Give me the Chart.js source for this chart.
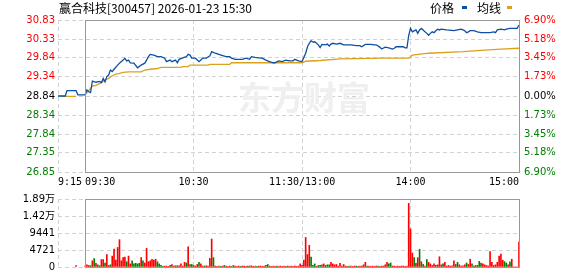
<!DOCTYPE html>
<html><head><meta charset="utf-8">
<script src="https://cdn.jsdelivr.net/npm/chart.js@4.4.1/dist/chart.umd.min.js"></script>
<style>
html,body{margin:0;padding:0;background:#fff;}
#wrap{position:relative;width:578px;height:276px;overflow:hidden;}
canvas{position:absolute;left:0;}
#c1{top:0}
#c2{top:190px}
</style></head><body>
<div id="wrap"><canvas id="c1" width="578" height="190"></canvas><canvas id="c2" width="578" height="86"></canvas></div>
<script>
// ---------- data ----------
const title = '赢合科技[300457] 2026-01-23 15:30';
const legendLabels = ['价格', '均线'];
const watermark = '东方财富';
const prevClose = 28.84;
const priceTicks = [30.83, 30.33, 29.84, 29.34, 28.84, 28.34, 27.84, 27.35, 26.85];
const pctLabels  = ['6.90%', '5.18%', '3.45%', '1.73%', '0.00%', '1.73%', '3.45%', '5.18%', '6.90%'];
const xLabels     = ['9:15', '09:30', '10:30', '11:30/13:00', '14:00', '15:00'];
const xLabelTimes = ['09:15', '09:30', '10:30', '11:30', '14:00', '15:00'];
const xLabelAnchor = ['start', 'start', 'center', 'center', 'center', 'end'];
const gridTimes = ['09:15', '10:30', '11:30', '14:00'];
const volTicks = [0, 4721, 9441, 14162, 18884];
const volTickLabels = ['0', '4721', '9441', '1.42万', '1.89万'];

const priceTimes = ['09:15','09:19','09:20','09:25','09:26','09:29',
 '09:30','09:31','09:32','09:33','09:34','09:36','09:38','09:39','09:40','09:41','09:42','09:43','09:44','09:45','09:46','09:48','09:49','09:51','09:52','09:53','09:54','09:55','09:57','09:59',
 '10:01','10:03','10:04','10:05','10:06','10:08','10:10','10:12','10:14','10:15','10:17','10:18','10:20','10:21','10:22','10:24','10:26','10:27','10:28','10:29','10:31','10:33','10:34','10:35','10:37','10:39','10:40','10:42','10:44','10:46','10:48','10:50','10:51','10:53','10:57','10:59',
 '11:01','11:02','11:04','11:06','11:08','11:10','11:12','11:14','11:15','11:17','11:19','11:21','11:23','11:25','11:26','11:28','11:30',
 '13:02','13:03','13:04','13:05','13:06','13:07','13:08','13:09','13:10','13:11','13:13','13:14','13:15','13:16','13:17','13:19','13:21','13:23','13:27','13:30','13:32','13:33','13:35','13:38','13:40','13:41','13:43','13:44','13:46','13:48','13:50','13:51','13:52','13:56','13:57','13:58','13:59',
 '14:00','14:01','14:03','14:04','14:05','14:06','14:07','14:08','14:09','14:10','14:11','14:12','14:13','14:14','14:15','14:16','14:17','14:20','14:24','14:26','14:28','14:29','14:30','14:31','14:32','14:33','14:35','14:37','14:39','14:44','14:46','14:47','14:48','14:50','14:52','14:53','14:55','14:59','15:00'];
const priceValues = [28.84,28.84,28.98,28.98,28.87,28.87,
 28.87,29.00,28.95,28.93,29.23,29.20,29.22,29.19,29.30,29.21,29.35,29.39,29.52,29.48,29.54,29.65,29.70,29.78,29.83,29.76,29.78,29.71,29.70,29.58,
 29.65,29.70,29.78,29.87,29.93,29.91,29.87,29.87,29.83,29.74,29.78,29.74,29.78,29.71,29.80,29.84,29.87,29.93,29.91,29.83,29.83,29.74,29.78,29.83,29.83,29.89,30.00,29.96,29.93,29.90,29.87,29.87,29.83,29.80,29.80,29.83,
 29.80,29.87,29.85,29.84,29.83,29.78,29.74,29.71,29.71,29.76,29.74,29.78,29.76,29.76,29.80,29.76,29.74,
 29.96,30.13,30.22,30.29,30.25,30.26,30.22,30.18,30.11,30.19,30.18,30.20,30.15,30.20,30.22,30.20,30.22,30.18,30.18,30.16,30.16,30.13,30.19,30.19,30.18,30.18,30.12,30.07,30.12,30.10,30.07,30.09,30.13,30.13,30.10,30.10,30.43,
 30.61,30.52,30.57,30.48,30.57,30.61,30.57,30.52,30.48,30.43,30.48,30.52,30.50,30.55,30.59,30.57,30.59,30.57,30.55,30.57,30.59,30.57,30.55,30.50,30.52,30.55,30.55,30.52,30.50,30.50,30.52,30.50,30.57,30.59,30.57,30.59,30.61,30.61,30.70];

const avgTimes = ['09:17','09:25','09:26',
 '09:30','09:33','09:34','09:36','09:39','09:41','09:43','09:45','09:47','09:49','09:51','09:54','10:01','10:03','10:06','10:10','10:12','10:23','10:24','10:27','10:28','10:38','10:39','10:50','10:51','11:30',
 '13:02','13:10','13:21','13:45','13:59','14:00','14:01','14:10','14:29','14:43','14:50','15:00'];
const avgValues = [28.83,28.83,null,
 28.87,29.04,29.10,29.12,29.19,29.26,29.30,29.37,29.41,29.43,29.46,29.47,29.47,29.52,29.54,29.56,29.59,29.59,29.61,29.61,29.65,29.65,29.67,29.67,29.71,29.71,
 29.75,29.77,29.81,29.83,29.83,29.87,29.91,29.96,30.00,30.05,30.07,30.09];

// volume: call auction bar, then one bar per minute 09:30-11:30 and 13:01-15:00 (r = up, g = down)
const volAuctionTime = '09:25', volAuction = 400, volAuctionDir = 'r';
const volMorning = [260,600,430,350,1720,2330,1030,600,350,2070,
 2070,1120,3450,430,600,3020,5000,1900,5430,7590,
 1720,2590,2760,1470,3020,860,1720,860,1030,860,
 1030,2590,1720,1120,5170,1470,1720,2160,1900,2160,
 1470,860,430,170,260,260,170,430,700,260,
 350,350,350,860,260,1290,1120,5600,700,700,
 430,260,700,1290,860,260,260,350,260,2410,
 7760,2590,260,170,260,170,260,430,260,170,
 260,170,430,260,170,260,170,260,260,170,
 260,260,350,170,260,170,260,260,170,260,
 430,700,260,170,260,170,260,170,260,170,
 260,170,260,170,260,170,260,170,260,860,
 430];
const volMorningDir = 'rrrgrgrggr' + 'rgrrgrrrrr' + 'rrrgrrgggg' + 'grgrrrrrrr' + 'ggggrrrgrr' +
  'rgrrrrgrgg' + 'rrrgrrgrrr' + 'rgrrrgrgrr' + 'rggrrrgrrr' + 'grrrrgrrrr' + 'ggrrrrgrrr' + 'rgrrrrrrrr' + 'r';
const volAfternoon = [1900,8200,3450,6030,2760,430,860,170,430,430,
 600,860,430,600,600,1290,860,600,700,260,
 1030,260,700,260,170,260,260,170,260,260,
 170,260,260,600,1290,260,260,170,260,170,
 260,260,170,260,260,600,1290,860,1120,260,
 260,170,260,170,260,260,170,260,17670,10600,
 3880,2590,1030,2590,4920,1470,700,260,2070,1290,
 860,430,860,430,600,2850,600,860,1290,260,
 430,260,350,1720,700,1290,600,260,350,600,
 1120,700,2160,860,260,430,430,1550,1120,860,
 600,430,260,4310,1290,430,600,1290,3020,3620,
 1900,1470,1120,600,1470,2160,0,0,0,6900];
const volAfternoonDir = 'rrrrgggrgg' + 'rrgggrrrrr' + 'rrrrrgrrrg' + 'rrrrrgrrrr' + 'rgrrrrrggr' +
  'rrrrrrrrrr' + 'rgrrgrgrgr' + 'rrrgrrrgrr' + 'rrrrggrrrr' + 'grrgrgrggr' + 'rrrrrrrrrr' + 'rggrgrrrrr';

// ---------- helpers ----------
function toIndex(hhmm){
  const [h, m] = hhmm.split(':').map(Number);
  const mins = h * 60 + m;
  if (mins < 570) return mins - 555;          // 9:15 - 9:30 call auction
  if (mins <= 690) return 15 + mins - 570;    // morning session
  return 135 + mins - 780;                    // afternoon session
}
const X_MAX = toIndex('15:00');
const LEFT_W = 58, RIGHT_W = 59;
const PLOT_W = 578 - LEFT_W - RIGHT_W;
const RED = '#ff0000', GREEN = '#008000';
const BLUE = '#0c4fa3', GOLD = '#dba11c';
const GRID = '#d2d2d2', DASH = [4, 3];
const X_FONT = {family: '"DejaVu Sans Mono", monospace', size: 10};
const Y_FONT = {family: '"DejaVu Sans", "Noto Sans CJK SC", sans-serif', size: 10};

const mctx = document.createElement('canvas').getContext('2d');
mctx.font = '10px "DejaVu Sans Mono"';
const xLabelValues = xLabels.map((lab, i) => {
  const w = mctx.measureText(lab).width * X_MAX / PLOT_W;
  const v = toIndex(xLabelTimes[i]);
  return xLabelAnchor[i] === 'start' ? v + w / 2 : xLabelAnchor[i] === 'end' ? v - w / 2 : v;
});
function priceColor(v){
  if (Math.abs(v - prevClose) < 1e-6) return '#000';
  return v > prevClose ? RED : GREEN;
}
function pts(times, vals){ return times.map((t, i) => ({x: toIndex(t), y: vals[i]})); }

// volume points: x = minute index on the shared time axis
const volPoints = [{x: toIndex(volAuctionTime), y: volAuction}];
const volColors = [volAuctionDir === 'r' ? RED : GREEN];
volMorning.forEach((v, i) => { volPoints.push({x: toIndex('09:30') + i, y: v}); volColors.push(volMorningDir[i] === 'r' ? RED : GREEN); });
volAfternoon.forEach((v, i) => { volPoints.push({x: toIndex('13:00') + 1 + i, y: v}); volColors.push(volAfternoonDir[i] === 'r' ? RED : GREEN); });

const framePlugin = {
  id: 'frame',
  afterDatasetsDraw(chart){
    const {ctx, chartArea: a, scales: {x}} = chart;
    const l = Math.round(x.getPixelForValue(toIndex('09:30'))) + 0.5;
    const r = Math.round(x.getPixelForValue(X_MAX)) + 0.5;
    ctx.save();
    ctx.strokeStyle = '#999'; ctx.lineWidth = 1;
    ctx.strokeRect(l, Math.round(a.top) + 0.5, r - l, Math.round(a.bottom - a.top));
    ctx.restore();
  }
};
const headerPlugin = {
  id: 'header',
  afterDraw(chart){
    const ctx = chart.ctx;
    ctx.save();
    ctx.font = '12px "Noto Sans CJK SC"';
    ctx.fillStyle = '#000'; ctx.textBaseline = 'middle';
    ctx.fillText(title, 59, 8);
    ctx.fillText(legendLabels[0], 430, 8);
    ctx.fillStyle = BLUE; ctx.fillRect(462, 6, 5, 3);
    ctx.fillStyle = '#000';
    ctx.fillText(legendLabels[1], 477, 8);
    ctx.fillStyle = GOLD; ctx.fillRect(507, 6, 5, 3);
    ctx.restore();
  }
};
const watermarkPlugin = {
  id: 'watermark',
  beforeDatasetsDraw(chart){
    const ctx = chart.ctx;
    ctx.save();
    ctx.font = 'bold 33px "Noto Sans CJK SC"';
    ctx.fillStyle = '#efefef'; ctx.textBaseline = 'middle';
    ctx.fillText(watermark, 238, 97);
    ctx.restore();
  }
};

// ---------- price chart ----------
new Chart(document.getElementById('c1'), {
  type: 'line',
  data: {datasets: [
    {label: legendLabels[0], data: pts(priceTimes, priceValues), borderColor: BLUE, borderWidth: 1.3, pointRadius: 0, tension: 0, xAxisID: 'x', yAxisID: 'y'},
    {label: legendLabels[1], data: pts(avgTimes, avgValues), borderColor: GOLD, borderWidth: 1.3, pointRadius: 0, tension: 0, spanGaps: false, xAxisID: 'x', yAxisID: 'y'}
  ]},
  options: {
    responsive: false, animation: false, events: [],
    layout: {padding: {top: 20, left: 0, right: 0, bottom: 0}},
    plugins: {legend: {display: false}, tooltip: {enabled: false}},
    scales: {
      x: {type: 'linear', min: 0, max: X_MAX, position: 'bottom',
        afterBuildTicks(s){ s.ticks = gridTimes.map(t => ({value: toIndex(t)})); },
        ticks: {display: false}, grid: {drawTicks: false, color: GRID}, border: {display: false, dash: DASH},
        afterFit(s){ s.height = 0; }},
      xl: {type: 'linear', min: 0, max: X_MAX, position: 'bottom',
        afterBuildTicks(s){ s.ticks = xLabelValues.map(v => ({value: v})); },
        ticks: {autoSkip: false, maxRotation: 0, padding: 4, font: X_FONT, color: '#000',
          callback: (v, i) => xLabels[i]},
        grid: {display: false, drawTicks: false}, border: {display: false},
        afterFit(s){ s.height = 18; }},
      y: {position: 'left', min: priceTicks[priceTicks.length - 1], max: priceTicks[0],
        afterBuildTicks(s){ s.ticks = priceTicks.map(v => ({value: v})); },
        ticks: {padding: 3, font: Y_FONT, color: c => priceColor(c.tick.value), callback: v => v.toFixed(2)},
        grid: {drawTicks: false, color: GRID}, border: {display: false, dash: DASH},
        afterFit(s){ s.width = LEFT_W; }},
      y2: {position: 'right', min: priceTicks[priceTicks.length - 1], max: priceTicks[0],
        afterBuildTicks(s){ s.ticks = priceTicks.map(v => ({value: v})); },
        ticks: {padding: 5, font: Y_FONT, color: c => priceColor(c.tick.value),
          callback: v => pctLabels[priceTicks.indexOf(v)]},
        grid: {display: false, drawTicks: false}, border: {display: false},
        afterFit(s){ s.width = RIGHT_W; }}
    }
  },
  plugins: [watermarkPlugin, framePlugin, headerPlugin]
});

// ---------- volume chart ----------
new Chart(document.getElementById('c2'), {
  type: 'bar',
  data: {datasets: [{
    data: volPoints,
    backgroundColor: volColors,
    barThickness: 1, borderWidth: 0, grouped: false
  }]},
  options: {
    responsive: false, animation: false, events: [],
    layout: {padding: {top: 6, left: 0, right: RIGHT_W, bottom: 6}},
    plugins: {legend: {display: false}, tooltip: {enabled: false}},
    scales: {
      x: {type: 'linear', min: 0, max: X_MAX, offset: false,
        afterBuildTicks(s){ s.ticks = gridTimes.map(t => ({value: toIndex(t)})); },
        ticks: {display: false}, grid: {drawTicks: false, color: GRID, offset: false}, border: {display: false, dash: DASH},
        afterFit(s){ s.height = 0; }},
      y: {position: 'left', min: 0, max: volTicks[volTicks.length - 1],
        afterBuildTicks(s){ s.ticks = volTicks.map(v => ({value: v})); },
        ticks: {padding: 3, font: Y_FONT, color: '#000', callback: v => volTickLabels[volTicks.indexOf(v)]},
        grid: {drawTicks: false, color: GRID}, border: {display: false, dash: DASH},
        afterFit(s){ s.width = LEFT_W; }}
    }
  },
  plugins: [framePlugin]
});
</script>
</body></html>
